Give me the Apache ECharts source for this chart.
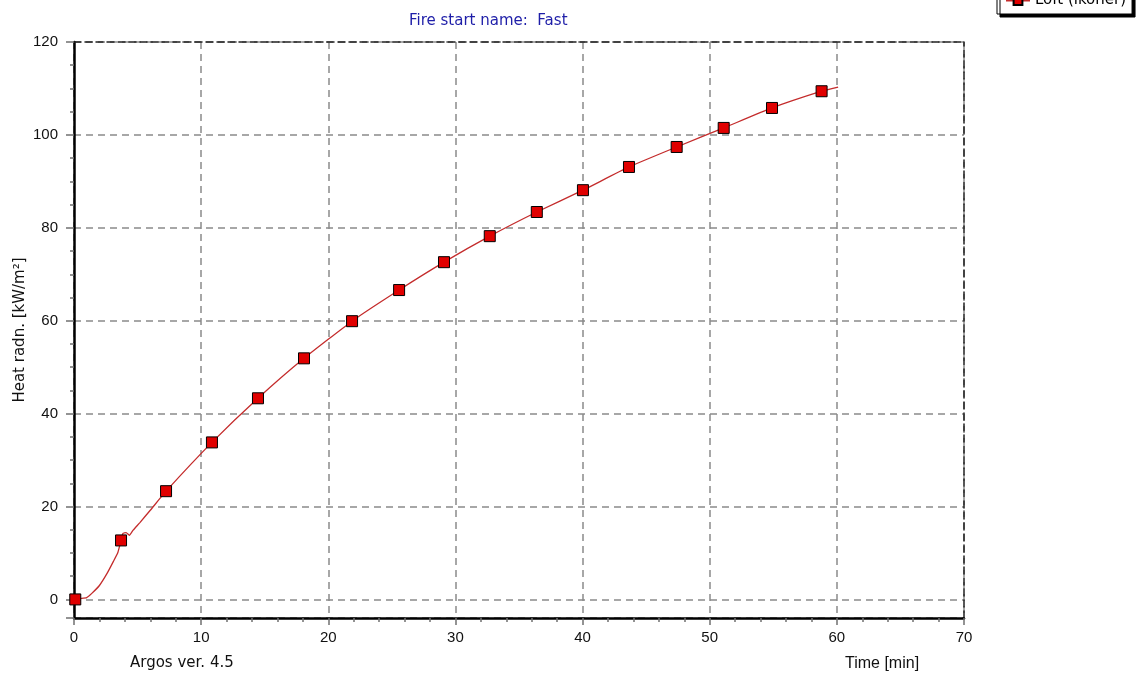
<!DOCTYPE html>
<html>
<head>
<meta charset="utf-8">
<script src="https://cdn.jsdelivr.net/npm/echarts@6/dist/echarts.min.js"></script>
<style>
  html, body { margin: 0; padding: 0; background: #ffffff; }
  #chart { width: 1141px; height: 673px; }
</style>
</head>
<body>
<div id="chart"></div>
<script>
// Heat radiation curve (continuous trace), time in minutes
const lineTimes = [0, 0.5, 1.0, 1.4, 2.0, 2.6, 3.1, 3.45, 3.7, 3.85, 4.1, 4.35, 4.65, 5.2, 6.0, 7.24,
  10.85, 14.47, 18.09, 21.87, 25.57, 29.1, 32.7, 36.4, 40.03, 43.65, 47.4, 51.1, 54.9, 58.8, 60.1];
const lineValues = [0, 0.2, 0.4, 1.3, 3.0, 5.6, 8.2, 10.1, 12.7, 14.2, 14.4, 13.8, 14.9, 16.6, 19.2, 23.3,
  33.8, 43.3, 51.9, 59.9, 66.6, 72.6, 78.2, 83.4, 88.1, 93.1, 97.4, 101.5, 105.8, 109.4, 110.3];

// Sampled marker points along the curve
const markerTimes = [0.1, 3.7, 7.24, 10.85, 14.47, 18.09, 21.87, 25.57, 29.1, 32.7, 36.4, 40.03, 43.65, 47.4, 51.1, 54.9, 58.8];
const markerValues = [0, 12.7, 23.3, 33.8, 43.3, 51.9, 59.9, 66.6, 72.6, 78.2, 83.4, 88.1, 93.1, 97.4, 101.5, 105.8, 109.4];

const seriesName = 'Loft (ikoner)';
const subtitleText = 'Fire start name:  Fast';
const xAxisTitle = 'Time [min]';
const yAxisTitle = 'Heat radn. [kW/m²]';
const versionText = 'Argos ver. 4.5';

const xMin = 0, xMax = 70, xStep = 10;
const yMin = -4, yMax = 120;

const NUM_FONT = 'Liberation Sans, Arial, sans-serif';
const TEXT_FONT = 'DejaVu Sans, Verdana, sans-serif';
const gridDash = { color: '#8a8a8a', type: [7, 5], width: 1.5 };
const frameDash = { color: '#222222', type: [7, 4], width: 1.5 };

const lineData = lineTimes.map((t, i) => [t, lineValues[i]]);
const markerData = markerTimes.map((t, i) => [t, markerValues[i]]);

const chart = echarts.init(document.getElementById('chart'), null, { renderer: 'canvas' });

chart.setOption({
  animation: false,
  backgroundColor: '#ffffff',
  textStyle: { fontFamily: NUM_FONT },
  title: [
    { text: subtitleText, left: 404, top: 9,
      textStyle: { color: '#1e1ea8', fontSize: 15, fontWeight: 'normal', fontFamily: TEXT_FONT } },
    { text: versionText, left: 125, top: 651,
      textStyle: { color: '#111111', fontSize: 15, fontWeight: 'normal', fontFamily: TEXT_FONT } },
    { text: xAxisTitle, left: 840, top: 651,
      textStyle: { color: '#111111', fontSize: 16, fontWeight: 'normal', fontFamily: NUM_FONT } }
  ],
  legend: {
    data: [seriesName],
    left: 997, top: -13,
    padding: [6, 6, 6, 8],
    itemWidth: 24, itemHeight: 11, itemGap: 6,
    backgroundColor: '#ffffff',
    borderColor: '#000000', borderWidth: 1,
    shadowColor: '#000000', shadowBlur: 0, shadowOffsetX: 3, shadowOffsetY: 3,
    textStyle: { color: '#000000', fontSize: 15, fontFamily: TEXT_FONT }
  },
  grid: { left: 74, right: 177, top: 42, bottom: 55, containLabel: false },
  xAxis: [
    {
      type: 'value', min: xMin, max: xMax, interval: xStep,
      axisLine: { show: true, onZero: false, lineStyle: { color: '#000000', width: 2.5 } },
      axisTick: { show: true, length: 7, lineStyle: { color: '#707070', width: 1.5 } },
      minorTick: { show: true, splitNumber: 5, length: 4, lineStyle: { color: '#707070', width: 1.5 } },
      axisLabel: { color: '#111111', fontSize: 15, margin: 12, fontFamily: NUM_FONT },
      splitLine: { show: true, lineStyle: gridDash }
    },
    {
      type: 'value', position: 'top', min: xMin, max: xMax, interval: xStep,
      axisLine: { show: true, onZero: false, lineStyle: frameDash },
      axisTick: { show: false }, axisLabel: { show: false }, splitLine: { show: false }
    }
  ],
  yAxis: [
    {
      type: 'value', min: yMin, max: yMax, splitNumber: 6,
      name: yAxisTitle, nameLocation: 'middle', nameGap: 46, nameRotate: 90,
      nameMoveOverlap: false,
      nameTextStyle: { color: '#111111', fontSize: 15, fontFamily: TEXT_FONT },
      axisLine: { show: true, onZero: false, lineStyle: { color: '#000000', width: 2.5 } },
      axisTick: { show: true, length: 8, lineStyle: { color: '#707070', width: 1.5 } },
      minorTick: { show: true, splitNumber: 4, length: 4, lineStyle: { color: '#707070', width: 1.5 } },
      axisLabel: { color: '#111111', fontSize: 15, margin: 16, showMinLabel: false, fontFamily: NUM_FONT },
      splitLine: { show: true, lineStyle: gridDash }
    },
    {
      type: 'value', position: 'right', min: yMin, max: yMax,
      axisLine: { show: true, onZero: false, lineStyle: frameDash },
      axisTick: { show: false }, axisLabel: { show: false }, splitLine: { show: false }
    }
  ],
  series: [
    {
      name: seriesName, type: 'line', data: lineData,
      smooth: 0.15,
      symbol: 'rect', symbolSize: 11, showSymbol: false,
      lineStyle: { color: '#c42c2c', width: 1.3 },
      itemStyle: { color: '#e00000', borderColor: '#000000', borderWidth: 1 },
      z: 3
    },
    {
      name: seriesName, type: 'scatter', data: markerData,
      symbol: 'rect', symbolSize: 11,
      itemStyle: { color: '#e00000', borderColor: '#000000', borderWidth: 1, opacity: 1 },
      z: 4
    }
  ]
});
</script>
</body>
</html>
